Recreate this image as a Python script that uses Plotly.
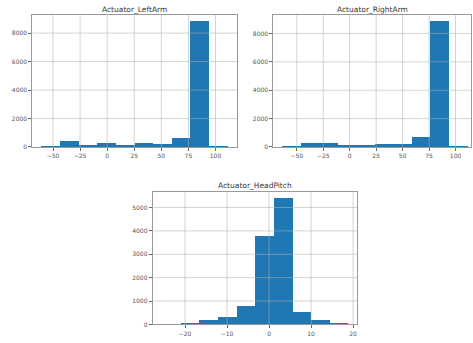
import plotly.graph_objects as go

# ---- data ----
left_edges = [-60.5, -43.3, -26.1, -8.9, 8.3, 25.5, 42.7, 59.9, 77.1, 94.3, 111.5]
left_counts = [70, 440, 165, 275, 165, 275, 210, 625, 8840, 75]

right_edges = [-63.4, -45.9, -28.4, -10.9, 6.6, 24.1, 41.6, 59.1, 76.6, 94.1, 111.6]
right_counts = [45, 280, 280, 165, 165, 205, 205, 720, 8870, 70]

head_edges = [-25.5, -21.07, -16.64, -12.21, -7.78, -3.35, 1.08, 5.51, 9.94, 14.37, 18.8]
head_counts = [2, 45, 175, 290, 765, 3770, 5380, 505, 160, 45]

arm_xticks = [-50, -25, 0, 25, 50, 75, 100]
arm_yticks = [0, 2000, 4000, 6000, 8000]
head_xticks = [-20, -10, 0, 10, 20]
head_yticks = [0, 1000, 2000, 3000, 4000, 5000]

titles = ["Actuator_LeftArm", "Actuator_RightArm", "Actuator_HeadPitch"]

W, H = 473, 343
BAR = "#1f77b4"
FONT = "DejaVu Sans"


def px_x(p):
    return p / W


def px_y(p):
    return 1 - p / H


panels = [
    dict(edges=left_edges, counts=left_counts, xt=arm_xticks, yt=arm_yticks,
         xd=[px_x(32.3), px_x(237.3)], yd=[px_y(148.3), px_y(15)],
         xr=[-69.1, 120.1], yr=[0, 9280], title=titles[0], ty=9.5),
    dict(edges=right_edges, counts=right_counts, xt=arm_xticks, yt=arm_yticks,
         xd=[px_x(273.3), px_x(471)], yd=[px_y(148.3), px_y(15)],
         xr=[-72.2, 114.6], yr=[0, 9310], title=titles[1], ty=9.5),
    dict(edges=head_edges, counts=head_counts, xt=head_xticks, yt=head_yticks,
         xd=[px_x(152.7), px_x(357.3)], yd=[px_y(327.3), px_y(194)],
         xr=[-27.7, 21.0], yr=[0, 5650], title=titles[2], ty=187),
]

fig = go.Figure()
grid_col = "rgba(176,176,176,0.55)"

for i, p in enumerate(panels):
    n = "" if i == 0 else str(i + 1)
    e = p["edges"]
    centers = [(e[k] + e[k + 1]) / 2 for k in range(len(e) - 1)]
    widths = [e[k + 1] - e[k] for k in range(len(e) - 1)]
    fig.add_trace(go.Bar(x=centers, y=p["counts"], width=widths,
                         marker=dict(color=BAR, line=dict(width=0)),
                         xaxis="x" + n, yaxis="y" + n, showlegend=False,
                         hoverinfo="x+y"))
    axis_common = dict(showgrid=False, zeroline=False, showline=True, mirror=True,
                       linecolor="#999999", linewidth=1, ticks="outside", ticklen=3,
                       tickcolor="#666666", tickwidth=0.8,
                       tickfont=dict(family=FONT, size=6, color="#555555"))
    fig.update_layout(**{
        "xaxis" + n: dict(domain=p["xd"], range=p["xr"], tickvals=p["xt"],
                          anchor="y" + n, **axis_common),
        "yaxis" + n: dict(domain=p["yd"], range=p["yr"], tickvals=p["yt"],
                          anchor="x" + n, **axis_common),
    })
    # grid lines drawn above the bars, as in the reference
    for t in p["xt"]:
        if p["xr"][0] < t < p["xr"][1]:
            fig.add_shape(type="line", xref="x" + n, yref="y" + n + " domain",
                          x0=t, x1=t, y0=0, y1=1, layer="above",
                          line=dict(color=grid_col, width=1))
    for t in p["yt"]:
        if p["yr"][0] < t < p["yr"][1]:
            fig.add_shape(type="line", xref="x" + n + " domain", yref="y" + n,
                          x0=0, x1=1, y0=t, y1=t, layer="above",
                          line=dict(color=grid_col, width=1))
    fig.add_annotation(text=p["title"], xref="paper", yref="paper",
                       x=(p["xd"][0] + p["xd"][1]) / 2, y=px_y(p["ty"]),
                       xanchor="center", yanchor="middle", showarrow=False,
                       font=dict(family=FONT, size=7.5, color="#333333"))

fig.update_layout(width=W, height=H, margin=dict(l=0, r=0, t=0, b=0),
                  paper_bgcolor="white", plot_bgcolor="white", bargap=0)

fig.write_html("out.html", config={"displayModeBar": False},
               post_script="document.body.style.margin='0';document.body.style.overflow='hidden';")
